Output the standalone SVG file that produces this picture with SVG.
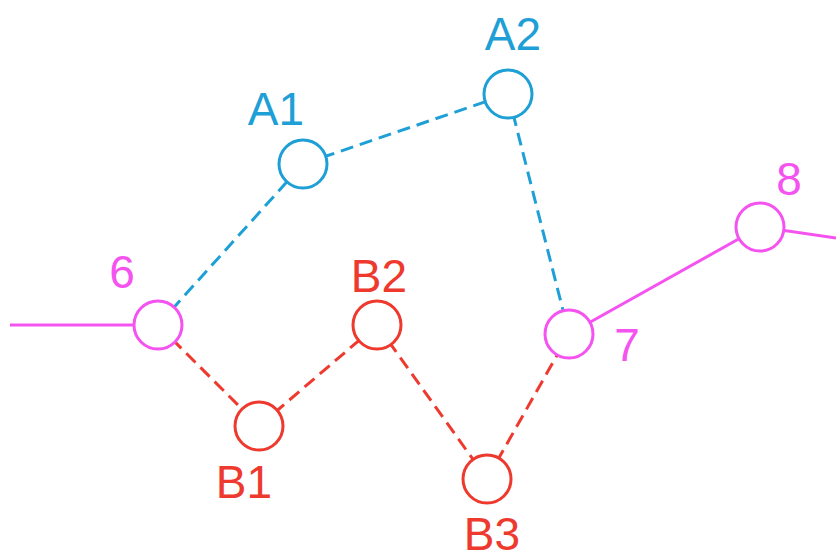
<svg xmlns="http://www.w3.org/2000/svg" width="836" height="552" viewBox="0 0 836 552">
<style>
.n{fill:#fff;stroke-width:3}
.m{stroke:#f553f0}
.b{stroke:#1ea0d6}
.r{stroke:#ee3a2e}
.l{fill:none;stroke-width:3}
.d{stroke-dasharray:13 7}
text{font-family:"Liberation Sans",Arial,sans-serif;font-size:46px;text-anchor:middle}
.tm{fill:#f553f0}.tb{fill:#1ea0d6}.tr{fill:#ee3a2e}
</style>
<rect width="836" height="552" fill="#fff"/>
<g id="connectors">
<line class="l m" x1="10" y1="325" x2="158" y2="325"/>
<line class="l m" x1="569" y1="334" x2="760" y2="227"/>
<line class="l m" x1="760" y1="227" x2="836" y2="238"/>
<line class="l b d" x1="158" y1="325" x2="303" y2="164"/>
<line class="l b d" x1="303" y1="164" x2="508" y2="94"/>
<line class="l b d" x1="508" y1="94" x2="569" y2="334"/>
<line class="l r d" x1="158" y1="325" x2="259" y2="426"/>
<line class="l r d" x1="259" y1="426" x2="377" y2="325"/>
<line class="l r d" x1="377" y1="325" x2="487" y2="479"/>
<line class="l r d" x1="487" y1="479" x2="569" y2="334"/>
</g>
<g id="n6"><circle class="n m" cx="158" cy="325" r="24"/><text class="tm" x="122" y="288">6</text></g>
<g id="n7"><circle class="n m" cx="569" cy="334" r="24"/><text class="tm" x="627" y="361">7</text></g>
<g id="n8"><circle class="n m" cx="760" cy="227" r="24"/><text class="tm" x="789" y="195">8</text></g>
<g id="A1"><circle class="n b" cx="303" cy="164" r="24"/><text class="tb" x="276" y="125">A1</text></g>
<g id="A2"><circle class="n b" cx="508" cy="94" r="24"/><text class="tb" x="513" y="50">A2</text></g>
<g id="B1"><circle class="n r" cx="259" cy="426" r="24"/><text class="tr" x="244" y="498">B1</text></g>
<g id="B2"><circle class="n r" cx="377" cy="325" r="24"/><text class="tr" x="379" y="292">B2</text></g>
<g id="B3"><circle class="n r" cx="487" cy="479" r="24"/><text class="tr" x="492" y="550">B3</text></g>
</svg>
